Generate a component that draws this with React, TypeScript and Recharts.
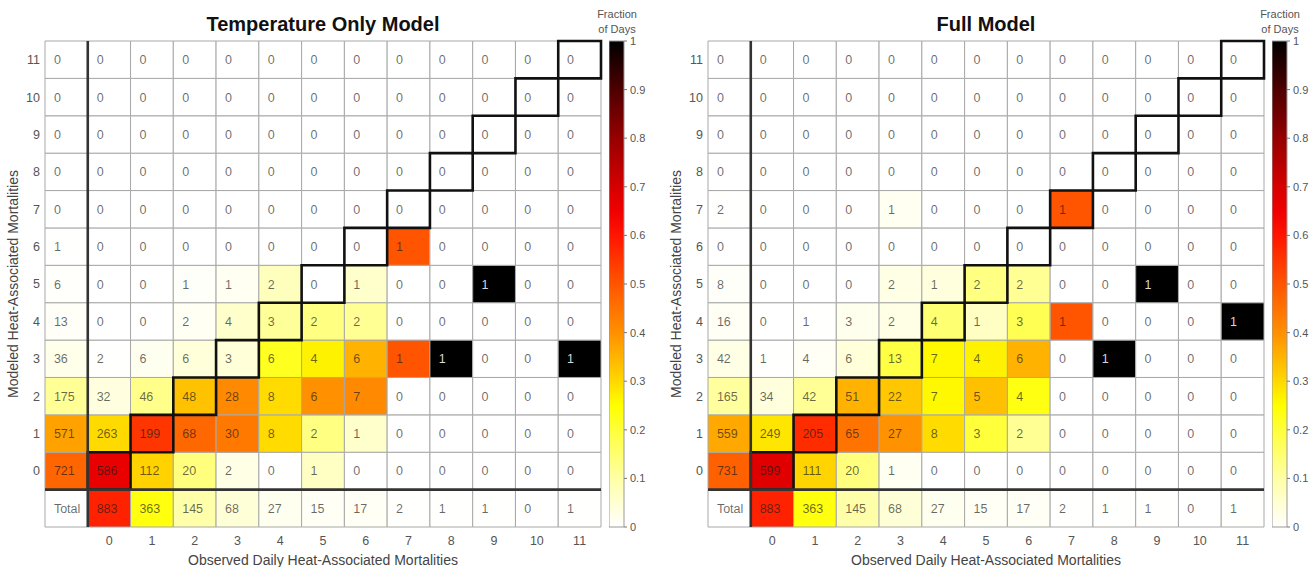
import React from 'react';
import {
  ScatterChart,
  Scatter,
  XAxis,
  YAxis,
  ReferenceArea,
  ReferenceLine,
  BarChart,
  Bar,
} from 'recharts';

// Observed (columns) and modeled (rows) daily heat-associated mortality counts
const observedCounts = [0, 1, 2, 3, 4, 5, 6, 7, 8, 9, 10, 11];
const modeledCounts = [0, 1, 2, 3, 4, 5, 6, 7, 8, 9, 10, 11];

// Number of days with each observed count (bottom "Total" row)
const observedTotals = [883, 363, 145, 68, 27, 15, 17, 2, 1, 1, 0, 1];

// Temperature-only model: row r = modeled count r, column c = observed count c
const tempOnlyRows = [
  [586, 112, 20, 2, 0, 1, 0, 0, 0, 0, 0, 0],
  [263, 199, 68, 30, 8, 2, 1, 0, 0, 0, 0, 0],
  [32, 46, 48, 28, 8, 6, 7, 0, 0, 0, 0, 0],
  [2, 6, 6, 3, 6, 4, 6, 1, 1, 0, 0, 1],
  [0, 0, 2, 4, 3, 2, 2, 0, 0, 0, 0, 0],
  [0, 0, 1, 1, 2, 0, 1, 0, 0, 1, 0, 0],
  [0, 0, 0, 0, 0, 0, 0, 1, 0, 0, 0, 0],
  [0, 0, 0, 0, 0, 0, 0, 0, 0, 0, 0, 0],
  [0, 0, 0, 0, 0, 0, 0, 0, 0, 0, 0, 0],
  [0, 0, 0, 0, 0, 0, 0, 0, 0, 0, 0, 0],
  [0, 0, 0, 0, 0, 0, 0, 0, 0, 0, 0, 0],
  [0, 0, 0, 0, 0, 0, 0, 0, 0, 0, 0, 0],
];
const tempOnlyRowTotals = [721, 571, 175, 36, 13, 6, 1, 0, 0, 0, 0, 0];

// Full model
const fullModelRows = [
  [599, 111, 20, 1, 0, 0, 0, 0, 0, 0, 0, 0],
  [249, 205, 65, 27, 8, 3, 2, 0, 0, 0, 0, 0],
  [34, 42, 51, 22, 7, 5, 4, 0, 0, 0, 0, 0],
  [1, 4, 6, 13, 7, 4, 6, 0, 1, 0, 0, 0],
  [0, 1, 3, 2, 4, 1, 3, 1, 0, 0, 0, 1],
  [0, 0, 0, 2, 1, 2, 2, 0, 0, 1, 0, 0],
  [0, 0, 0, 0, 0, 0, 0, 0, 0, 0, 0, 0],
  [0, 0, 0, 1, 0, 0, 0, 1, 0, 0, 0, 0],
  [0, 0, 0, 0, 0, 0, 0, 0, 0, 0, 0, 0],
  [0, 0, 0, 0, 0, 0, 0, 0, 0, 0, 0, 0],
  [0, 0, 0, 0, 0, 0, 0, 0, 0, 0, 0, 0],
  [0, 0, 0, 0, 0, 0, 0, 0, 0, 0, 0, 0],
];
const fullModelRowTotals = [731, 559, 165, 42, 16, 8, 0, 2, 0, 0, 0, 0];

const colorbarTicks = [0, 0.1, 0.2, 0.3, 0.4, 0.5, 0.6, 0.7, 0.8, 0.9, 1];

// Reversed "hot" colour scale: white -> yellow -> orange -> red -> black
const colorStops: [number, string][] = [
  [0.0, '#ffffff'],
  [0.1, '#ffffa6'],
  [0.2, '#ffff3a'],
  [0.25, '#ffff00'],
  [0.3, '#ffd800'],
  [0.35, '#ffb400'],
  [0.4, '#ff9000'],
  [0.5, '#ff5500'],
  [0.6, '#ff1500'],
  [0.65, '#f00000'],
  [0.7, '#d60000'],
  [0.8, '#960000'],
  [0.9, '#4e0000'],
  [1.0, '#000000'],
];

const FONT = '"Liberation Sans", Arial, Helvetica, sans-serif';
const TOTAL_IDX = -1;

function hexToRgb(h: string) {
  const n = parseInt(h.slice(1), 16);
  return [(n >> 16) & 255, (n >> 8) & 255, n & 255];
}

function fracColor(t: number) {
  const v = Math.max(0, Math.min(1, t));
  for (let i = 1; i < colorStops.length; i++) {
    const [t1, c1] = colorStops[i];
    const [t0, c0] = colorStops[i - 1];
    if (v <= t1) {
      const k = (v - t0) / (t1 - t0);
      const a = hexToRgb(c0);
      const b = hexToRgb(c1);
      const m = a.map((x, j) => Math.round(x + (b[j] - x) * k));
      return `rgb(${m[0]},${m[1]},${m[2]})`;
    }
  }
  return '#000000';
}

type Cell = { x: number; y: number; label: string; frac: number };

function buildCells(rows: number[][], rowTotals: number[]): Cell[] {
  const grand = observedTotals.reduce((s, v) => s + v, 0);
  const cells: Cell[] = [];
  modeledCounts.forEach((m, r) => {
    cells.push({ x: TOTAL_IDX, y: m, label: String(rowTotals[r]), frac: rowTotals[r] / grand });
    observedCounts.forEach((o, c) => {
      const v = rows[r][c];
      const tot = observedTotals[c];
      cells.push({ x: o, y: m, label: String(v), frac: tot > 0 ? v / tot : 0 });
    });
  });
  cells.push({ x: TOTAL_IDX, y: TOTAL_IDX, label: 'Total', frac: 0 });
  observedCounts.forEach((o, c) => {
    cells.push({ x: o, y: TOTAL_IDX, label: String(observedTotals[c]), frac: observedTotals[c] / grand });
  });
  return cells;
}

const CHART_H = 567;
const MARGIN_TOP = 41;
const XAXIS_H = 40;
const YAXIS_W = 45;
const PLOT_W = 556;
const HEAT_W = YAXIS_W + PLOT_W + 4;
const LABEL_DX = -12.5;

const CellText = (props: any) => {
  const { cx, cy, payload } = props;
  if (cx == null || cy == null) return null;
  const dark = payload.frac > 0.85;
  return (
    <text
      x={cx + LABEL_DX}
      y={cy}
      dy="0.36em"
      fontSize={12.5}
      fontFamily={FONT}
      fill={dark ? '#d8d8d8' : '#1a1a1a'}
      fillOpacity={dark ? 1 : 0.66}
    >
      {payload.label}
    </text>
  );
};

function Heatmap({ rows, rowTotals }: { rows: number[][]; rowTotals: number[] }) {
  const cells = buildCells(rows, rowTotals);
  const domain: [number, number] = [TOTAL_IDX - 0.5, 11.5];
  return (
    <ScatterChart
      width={HEAT_W}
      height={CHART_H}
      margin={{ top: MARGIN_TOP, right: 4, bottom: 0, left: 0 }}
    >
      <XAxis
        type="number"
        dataKey="x"
        domain={domain}
        ticks={observedCounts}
        interval={0}
        tickLine={false}
        axisLine={false}
        tickSize={0}
        tickMargin={9}
        height={XAXIS_H}
        tick={{ fontSize: 12.5, fill: '#555', fontFamily: FONT }}
        label={{
          value: 'Observed Daily Heat-Associated Mortalities',
          position: 'insideBottom',
          offset: 2,
          fontSize: 14,
          fill: '#444',
          fontFamily: FONT,
        }}
      />
      <YAxis
        type="number"
        dataKey="y"
        domain={domain}
        ticks={modeledCounts}
        interval={0}
        tickLine={false}
        axisLine={false}
        tickSize={0}
        tickMargin={5}
        width={YAXIS_W}
        tick={{ fontSize: 12.5, fill: '#555', fontFamily: FONT }}
        label={{
          value: 'Modeled Heat-Associated Mortalities',
          angle: -90,
          position: 'insideLeft',
          offset: 13,
          fontSize: 14,
          fill: '#444',
          fontFamily: FONT,
          style: { textAnchor: 'middle' },
        }}
      />
      {cells.map((c) => (
        <ReferenceArea
          key={`a${c.x}_${c.y}`}
          x1={c.x - 0.5}
          x2={c.x + 0.5}
          y1={c.y - 0.5}
          y2={c.y + 0.5}
          fill={fracColor(c.frac)}
          fillOpacity={1}
          stroke="#a8a8a8"
          strokeWidth={1}
        />
      ))}
      {observedCounts.map((o) => (
        <ReferenceArea
          key={`d${o}`}
          x1={o - 0.5}
          x2={o + 0.5}
          y1={o - 0.5}
          y2={o + 0.5}
          fill="none"
          fillOpacity={0}
          stroke="#111"
          strokeWidth={2.6}
        />
      ))}
      <ReferenceLine x={TOTAL_IDX + 0.5} stroke="#333" strokeWidth={2.6} />
      <ReferenceLine y={TOTAL_IDX + 0.5} stroke="#333" strokeWidth={2.6} />
      <Scatter data={cells} isAnimationActive={false} shape={CellText} />
    </ScatterChart>
  );
}

function Colorbar({ id }: { id: string }) {
  return (
    <BarChart
      width={60}
      height={CHART_H}
      data={[{ name: 'scale', v: 1 }]}
      margin={{ top: MARGIN_TOP, right: 0, bottom: XAXIS_H, left: 0 }}
      barCategoryGap={0}
    >
      <defs>
        <linearGradient id={id} x1="0" y1="1" x2="0" y2="0">
          {colorStops.map(([t, c]) => (
            <stop key={t} offset={`${t * 100}%`} stopColor={c} />
          ))}
        </linearGradient>
      </defs>
      <XAxis dataKey="name" type="category" hide />
      <YAxis
        orientation="right"
        type="number"
        domain={[0, 1]}
        ticks={colorbarTicks}
        interval={0}
        width={45}
        axisLine={false}
        tickSize={3}
        tickMargin={3}
        tickLine={{ stroke: '#777' }}
        tick={{ fontSize: 11, fill: '#555', fontFamily: FONT }}
      />
      <Bar dataKey="v" fill={`url(#${id})`} stroke="#999" strokeWidth={1} isAnimationActive={false} />
    </BarChart>
  );
}

const titleStyle: React.CSSProperties = {
  position: 'absolute',
  top: 12,
  width: PLOT_W,
  textAlign: 'center',
  fontFamily: FONT,
  fontWeight: 'bold',
  fontSize: 20,
  color: '#111',
  lineHeight: '24px',
};

const cbTitleStyle: React.CSSProperties = {
  position: 'absolute',
  top: 7,
  width: 60,
  textAlign: 'center',
  fontFamily: FONT,
  fontSize: 11,
  color: '#555',
  lineHeight: '15px',
};

export default function App() {
  const panels = [
    { key: 'temp', title: 'Temperature Only Model', rows: tempOnlyRows, totals: tempOnlyRowTotals, left: 0 },
    { key: 'full', title: 'Full Model', rows: fullModelRows, totals: fullModelRowTotals, left: 663 },
  ];
  return (
    <div
      style={{
        position: 'absolute',
        left: 0,
        top: 0,
        width: 1309,
        height: 567,
        background: '#fff',
        overflow: 'hidden',
      }}
    >
      {panels.map((p) => (
        <React.Fragment key={p.key}>
          <div style={{ position: 'absolute', left: p.left, top: 0 }}>
            <Heatmap rows={p.rows} rowTotals={p.totals} />
          </div>
          <div style={{ ...titleStyle, left: p.left + YAXIS_W }}>{p.title}</div>
          <div style={{ position: 'absolute', left: p.left + YAXIS_W + PLOT_W + 8, top: 0 }}>
            <Colorbar id={`cmap-${p.key}`} />
          </div>
          <div style={{ ...cbTitleStyle, left: p.left + YAXIS_W + PLOT_W + 8 - 22 }}>
            Fraction
            <br />
            of Days
          </div>
        </React.Fragment>
      ))}
    </div>
  );
}
